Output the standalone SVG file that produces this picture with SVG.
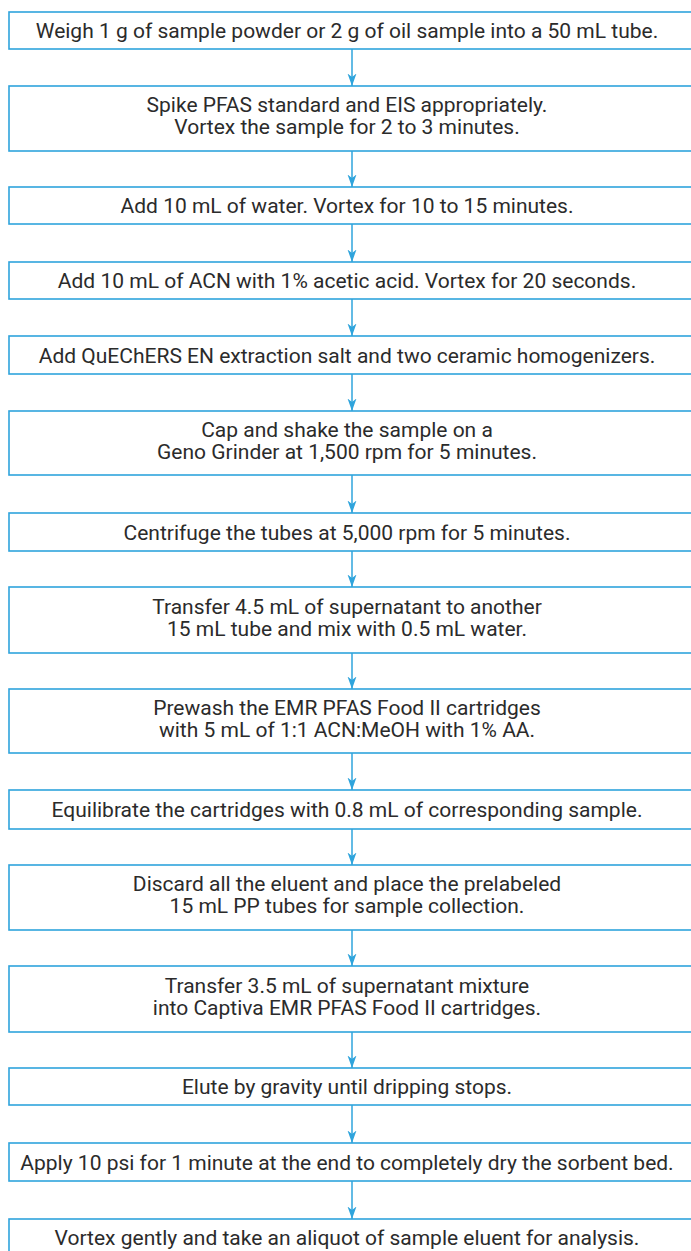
<svg xmlns="http://www.w3.org/2000/svg" width="691" height="1251" viewBox="0 0 691 1251">
<defs>
<style>
.box{fill:#fff;stroke:#2fa4dc;stroke-width:1.6}
.t{font-family:Roboto,"Liberation Sans",sans-serif;font-size:21px;fill:#2b2b2b;text-anchor:middle}
.c{stroke:#2fa4dc;stroke-width:1.5;fill:none;marker-end:url(#ah)}
</style>
<marker id="ah" markerWidth="13" markerHeight="10" refX="12.5" refY="5" orient="auto" markerUnits="userSpaceOnUse" viewBox="0 0 13 10">
<path d="M0,0.5 L12.5,5 L0,9.5 L3.5,5 Z" fill="#2fa4dc"/>
</marker>
</defs>
<rect width="691" height="1251" fill="#fff"/>
<g id="connectors">
<line class="c" x1="352" y1="49" x2="352" y2="86"/>
<line class="c" x1="352" y1="151" x2="352" y2="187"/>
<line class="c" x1="352" y1="224" x2="352" y2="262"/>
<line class="c" x1="352" y1="299" x2="352" y2="336"/>
<line class="c" x1="352" y1="374" x2="352" y2="411"/>
<line class="c" x1="352" y1="475" x2="352" y2="513"/>
<line class="c" x1="352" y1="551" x2="352" y2="587"/>
<line class="c" x1="352" y1="653" x2="352" y2="689"/>
<line class="c" x1="352" y1="753" x2="352" y2="790"/>
<line class="c" x1="352" y1="829" x2="352" y2="865"/>
<line class="c" x1="352" y1="930" x2="352" y2="966"/>
<line class="c" x1="352" y1="1032" x2="352" y2="1068"/>
<line class="c" x1="352" y1="1105" x2="352" y2="1143"/>
<line class="c" x1="352" y1="1181" x2="352" y2="1219"/>
</g>
<g id="n1"><rect class="box" x="9" y="12" width="700" height="37"/><text class="t" x="347" y="38">Weigh 1 g of sample powder or 2 g of oil sample into a 50 mL tube.</text></g>
<g id="n2"><rect class="box" x="9" y="86" width="700" height="65"/><text class="t" x="347" y="112">Spike PFAS standard and EIS appropriately.</text><text class="t" x="347" y="134">Vortex the sample for 2 to 3 minutes.</text></g>
<g id="n3"><rect class="box" x="9" y="187" width="700" height="37"/><text class="t" x="347" y="213">Add 10 mL of water. Vortex for 10 to 15 minutes.</text></g>
<g id="n4"><rect class="box" x="9" y="262" width="700" height="37"/><text class="t" x="347" y="288">Add 10 mL of ACN with 1% acetic acid. Vortex for 20 seconds.</text></g>
<g id="n5"><rect class="box" x="9" y="336" width="700" height="38"/><text class="t" x="347" y="362.5">Add QuEChERS EN extraction salt and two ceramic homogenizers.</text></g>
<g id="n6"><rect class="box" x="9" y="411" width="700" height="64"/><text class="t" x="347" y="437">Cap and shake the sample on a</text><text class="t" x="347" y="459">Geno Grinder at 1,500 rpm for 5 minutes.</text></g>
<g id="n7"><rect class="box" x="9" y="513" width="700" height="38"/><text class="t" x="347" y="539.5">Centrifuge the tubes at 5,000 rpm for 5 minutes.</text></g>
<g id="n8"><rect class="box" x="9" y="587" width="700" height="66"/><text class="t" x="347" y="614">Transfer 4.5 mL of supernatant to another</text><text class="t" x="347" y="636">15 mL tube and mix with 0.5 mL water.</text></g>
<g id="n9"><rect class="box" x="9" y="689" width="700" height="64"/><text class="t" x="347" y="715">Prewash the EMR PFAS Food II cartridges</text><text class="t" x="347" y="737">with 5 mL of 1:1 ACN:MeOH with 1% AA.</text></g>
<g id="n10"><rect class="box" x="9" y="790" width="700" height="39"/><text class="t" x="347" y="817">Equilibrate the cartridges with 0.8 mL of corresponding sample.</text></g>
<g id="n11"><rect class="box" x="9" y="865" width="700" height="65"/><text class="t" x="347" y="891">Discard all the eluent and place the prelabeled</text><text class="t" x="347" y="913">15 mL PP tubes for sample collection.</text></g>
<g id="n12"><rect class="box" x="9" y="966" width="700" height="66"/><text class="t" x="347" y="993">Transfer 3.5 mL of supernatant mixture</text><text class="t" x="347" y="1015">into Captiva EMR PFAS Food II cartridges.</text></g>
<g id="n13"><rect class="box" x="9" y="1068" width="700" height="37"/><text class="t" x="347" y="1094">Elute by gravity until dripping stops.</text></g>
<g id="n14"><rect class="box" x="9" y="1143" width="700" height="38"/><text class="t" x="347" y="1169.5">Apply 10 psi for 1 minute at the end to completely dry the sorbent bed.</text></g>
<g id="n15"><rect class="box" x="9" y="1219" width="700" height="60"/><text class="t" x="347" y="1245">Vortex gently and take an aliquot of sample eluent for analysis.</text></g>
</svg>
